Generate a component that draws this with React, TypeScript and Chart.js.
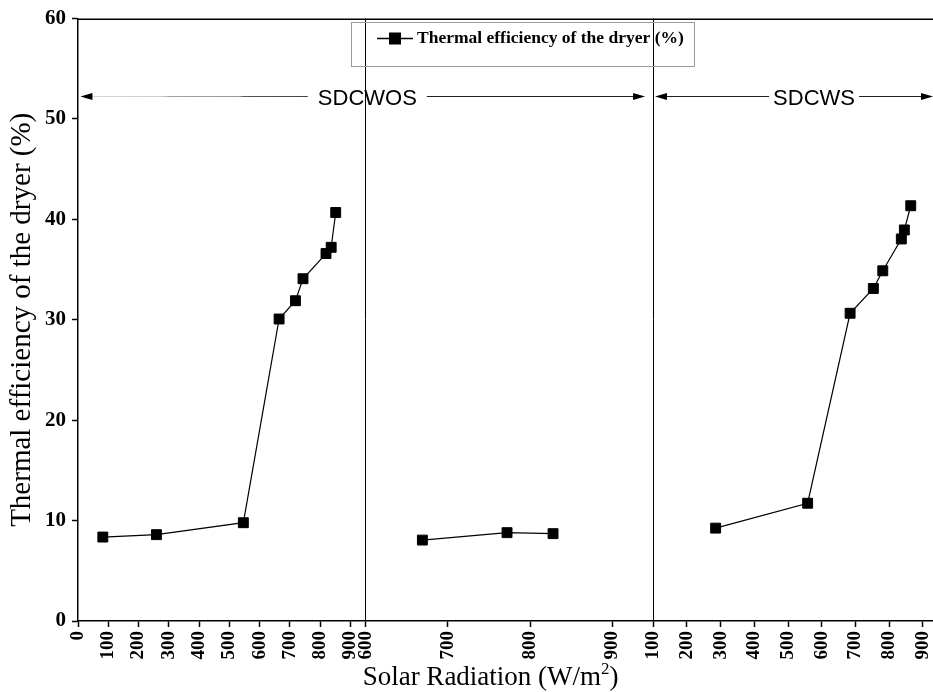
import React, { useEffect, useRef } from 'react';
import { Chart, registerables } from 'chart.js';

Chart.register(...registerables);

// ---------------- data ----------------
const SDCWOS_DAY1_RADIATION = [82, 259, 546, 664, 718, 743, 819, 836, 851];
const SDCWOS_DAY1_EFFICIENCY = [8.36, 8.6, 9.79, 30.08, 31.9, 34.09, 36.6, 37.22, 40.69];
const SDCWOS_DAY2_RADIATION = [669, 772, 828];
const SDCWOS_DAY2_EFFICIENCY = [8.06, 8.8, 8.7];
const SDCWS_RADIATION = [285, 558, 684, 753, 781, 836, 845, 864];
const SDCWS_EFFICIENCY = [9.25, 11.73, 30.65, 33.12, 34.88, 38.05, 38.95, 41.36];

const PANEL_IDS = ['x1', 'x2', 'x3'];
const PANEL_MIN = [0, 600, 100];
const PANEL_MAX = [950, 950, 930];
const X_STEP = 100;
const Y_MIN = 0;
const Y_MAX = 60;
const Y_STEP = 10;

const LEGEND_LABEL = 'Thermal efficiency of the dryer (%)';
const Y_TITLE = 'Thermal efficiency of the dryer (%)';
const X_TITLE_MAIN = 'Solar Radiation (W/m';
const X_TITLE_SUP = '2';
const X_TITLE_END = ')';

const SECTION_LABELS = ['SDCWOS', 'SDCWS'];
const SECTION_FROM: [string, number][] = [['x1', 8], ['x3', 105]];
const SECTION_TO: [string, number][] = [['x2', 940], ['x3', 930]];
const SECTION_TEXT_AT: [string, number][] = [['x2', 602], ['x3', 577]];
const SECTION_ARROW_Y = 52.3;
const X_TITLE_AT: [string, number] = ['x2', 752];

const SERIF = '"Liberation Serif", "Times New Roman", serif';
const SANS = '"Liberation Sans", Arial, sans-serif';

const toPoints = (xs: number[], ys: number[]) => xs.map((x, i) => ({ x, y: ys[i] }));

const overlayPlugin = {
  id: 'overlay',
  afterDraw(chart: any) {
    const { ctx, chartArea: ca, scales } = chart;
    const px = (ref: [string, number]) => scales[ref[0]].getPixelForValue(ref[1]);
    const seg = (x1: number, y1: number, x2: number, y2: number) => {
      ctx.beginPath();
      ctx.moveTo(x1, y1);
      ctx.lineTo(x2, y2);
      ctx.stroke();
    };
    ctx.save();

    // top frame line
    ctx.strokeStyle = '#000';
    ctx.lineWidth = 1.5;
    seg(ca.left, Math.round(ca.top) + 0.25, ca.right, Math.round(ca.top) + 0.25);

    // axis-break separators
    ctx.lineWidth = 1;
    ['x2', 'x3'].forEach((id) => {
      const x = Math.floor(scales[id].left) + 0.5;
      seg(x, ca.top, x, ca.bottom);
    });

    // section annotations
    const yA = Math.round(scales.y.getPixelForValue(SECTION_ARROW_Y)) + 0.5;
    ctx.font = `22px ${SANS}`;
    ctx.textAlign = 'center';
    ctx.textBaseline = 'middle';
    SECTION_LABELS.forEach((label, i) => {
      const x1 = px(SECTION_FROM[i]);
      const x2 = px(SECTION_TO[i]);
      const xc = px(SECTION_TEXT_AT[i]);
      const w = ctx.measureText(label).width;
      const gap = i === 0 ? 10 : 4;
      ctx.fillStyle = '#000';
      ctx.fillText(label, xc, yA + 2);
      if (i === 0) {
        const g = ctx.createLinearGradient(x1, 0, xc - w / 2 - gap, 0);
        g.addColorStop(0, '#d8d8d8');
        g.addColorStop(0.35, '#cfcfcf');
        g.addColorStop(0.4, '#a0a0a0');
        g.addColorStop(0.7, '#9a9a9a');
        g.addColorStop(0.72, '#555');
        g.addColorStop(1, '#444');
        ctx.strokeStyle = g;
      } else {
        ctx.strokeStyle = '#222';
      }
      seg(x1 + 10, yA, xc - w / 2 - gap, yA);
      ctx.strokeStyle = '#222';
      seg(xc + w / 2 + gap, yA, x2 - 10, yA);
      ctx.fillStyle = '#000';
      ctx.beginPath();
      ctx.moveTo(x1, yA);
      ctx.lineTo(x1 + 12, yA - 3.5);
      ctx.lineTo(x1 + 12, yA + 3.5);
      ctx.closePath();
      ctx.fill();
      ctx.beginPath();
      ctx.moveTo(x2, yA);
      ctx.lineTo(x2 - 12, yA - 3.5);
      ctx.lineTo(x2 - 12, yA + 3.5);
      ctx.closePath();
      ctx.fill();
    });

    // legend box
    const lb = { left: 351.5, top: 22.5, right: 694.5, bottom: 66.5 };
    ctx.strokeStyle = '#9a9a9a';
    ctx.lineWidth = 1;
    ctx.strokeRect(lb.left, lb.top, lb.right - lb.left, lb.bottom - lb.top);
    const ly = 38.5;
    ctx.strokeStyle = '#000';
    ctx.lineWidth = 1.5;
    seg(377, ly, 413, ly);
    ctx.fillStyle = '#000';
    ctx.fillRect(395 - 6, ly - 6, 12, 12);
    ctx.font = `bold 17.5px ${SERIF}`;
    ctx.textAlign = 'left';
    ctx.textBaseline = 'middle';
    ctx.fillText(LEGEND_LABEL, 417, ly);

    // x axis title with superscript
    const titleFont = `27px ${SERIF}`;
    const supFont = `17px ${SERIF}`;
    ctx.font = titleFont;
    const wMain = ctx.measureText(X_TITLE_MAIN).width;
    const wEnd = ctx.measureText(X_TITLE_END).width;
    ctx.font = supFont;
    const wSup = ctx.measureText(X_TITLE_SUP).width;
    const total = wMain + wSup + wEnd;
    let tx = px(X_TITLE_AT) - total / 2;
    const baseY = 685;
    ctx.textBaseline = 'alphabetic';
    ctx.font = titleFont;
    ctx.fillText(X_TITLE_MAIN, tx, baseY);
    tx += wMain;
    ctx.font = supFont;
    ctx.fillText(X_TITLE_SUP, tx, baseY - 11);
    tx += wSup;
    ctx.font = titleFont;
    ctx.fillText(X_TITLE_END, tx, baseY);

    ctx.restore();
  },
};

export default function App() {
  const canvasRef = useRef<HTMLCanvasElement | null>(null);

  useEffect(() => {
    document.body.style.margin = '0';
    const canvas = canvasRef.current;
    if (!canvas) return;

    const tickFontX = { family: SERIF, size: 19, weight: 'bold' as const };
    const weights = [287.7, 287.6, 279.7];
    const scales: any = {};
    PANEL_IDS.forEach((id, i) => {
      scales[id] = {
        type: 'linear',
        position: 'bottom',
        stack: 'x',
        stackWeight: weights[i],
        min: PANEL_MIN[i],
        max: PANEL_MAX[i],
        border: { display: true, color: '#000', width: 1.5 },
        grid: {
          display: true,
          drawOnChartArea: false,
          drawTicks: true,
          tickLength: 6,
          tickColor: '#000',
          tickWidth: 1.5,
        },
        ticks: {
          stepSize: X_STEP,
          includeBounds: false,
          autoSkip: false,
          maxRotation: 90,
          minRotation: 90,
          color: '#000',
          font: tickFontX,
          padding: 4,
        },
        afterFit: (s: any) => {
          s.height = 40;
          s.paddingLeft = 0;
          s.paddingRight = 0;
        },
      };
    });
    scales.y = {
      type: 'linear',
      position: 'left',
      min: Y_MIN,
      max: Y_MAX,
      border: { display: true, color: '#000', width: 1.5 },
      grid: {
        display: true,
        drawOnChartArea: false,
        drawTicks: true,
        tickLength: 6,
        tickColor: '#000',
        tickWidth: 1.5,
      },
      ticks: {
        stepSize: Y_STEP,
        color: '#000',
        font: { family: SERIF, size: 21, weight: 'bold' as const },
        padding: 6,
      },
      title: {
        display: true,
        text: Y_TITLE,
        color: '#000',
        font: { family: SERIF, size: 29 },
        padding: { top: 5, bottom: 0 },
      },
      afterFit: (s: any) => {
        s.width = 78;
      },
    };

    const ds = (id: string, xs: number[], ys: number[]) => ({
      label: LEGEND_LABEL,
      data: toPoints(xs, ys),
      xAxisID: id,
      yAxisID: 'y',
      borderColor: '#000',
      backgroundColor: '#000',
      borderWidth: 1.2,
      pointStyle: 'rect',
      pointRadius: 7,
      pointBorderWidth: 1,
      pointBackgroundColor: '#000',
      pointBorderColor: '#000',
      tension: 0,
      fill: false,
    });

    const chart = new Chart(canvas, {
      type: 'line',
      data: {
        datasets: [
          ds('x1', SDCWOS_DAY1_RADIATION, SDCWOS_DAY1_EFFICIENCY),
          ds('x2', SDCWOS_DAY2_RADIATION, SDCWOS_DAY2_EFFICIENCY),
          ds('x3', SDCWS_RADIATION, SDCWS_EFFICIENCY),
        ] as any,
      },
      options: {
        responsive: false,
        animation: false,
        devicePixelRatio: 1,
        layout: { autoPadding: false, padding: { top: 16, left: 0, right: 0, bottom: 31 } },
        scales,
        plugins: {
          legend: { display: false },
          tooltip: { enabled: false },
        },
      } as any,
      plugins: [overlayPlugin],
    });

    return () => chart.destroy();
  }, []);

  return (
    <div style={{ width: 933, height: 692, background: '#fff' }}>
      <canvas ref={canvasRef} width={933} height={692} style={{ display: 'block' }} />
    </div>
  );
}
